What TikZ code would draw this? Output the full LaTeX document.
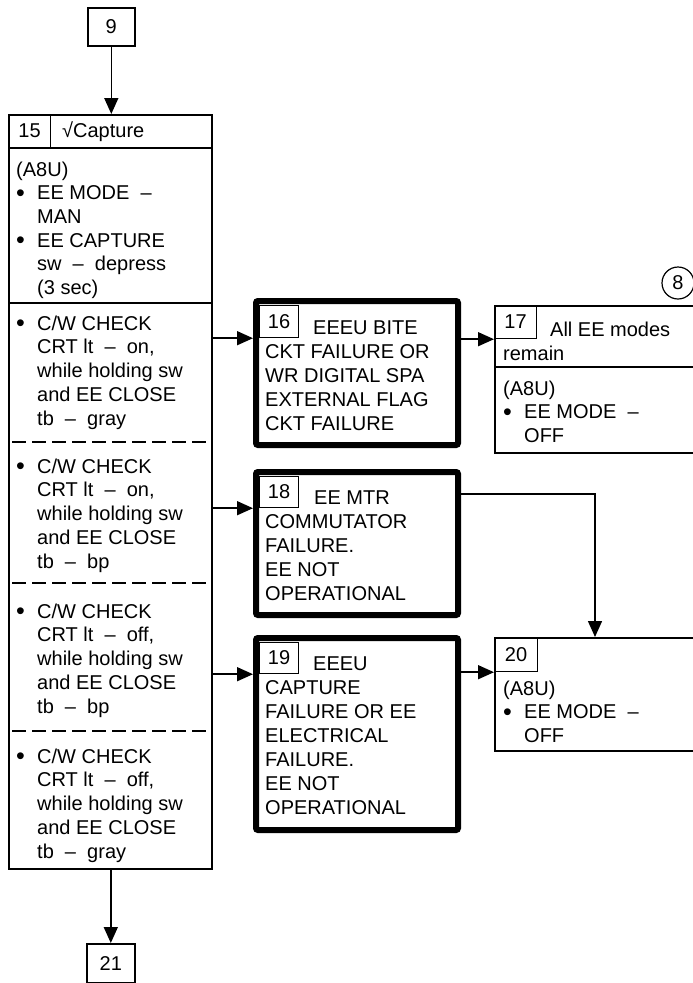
\documentclass[tikz,border=0pt]{standalone}
\usepackage{fontspec}
\setmainfont{Liberation Sans}
\usetikzlibrary{positioning,arrows.meta}
\newcommand{\bul}{\makebox[21pt][l]{\raisebox{-1.5pt}{\fontsize{25}{24}\selectfont\textbullet}}}
\newcommand{\ind}{\hspace*{21pt}}
\tikzset{
  frame/.style={rectangle, draw, line width=1.6pt, inner sep=0pt, anchor=north west},
  fail/.style={rectangle, draw, line width=6pt, rounded corners=2pt, inner sep=0pt, anchor=north west},
  numcell/.style={rectangle, draw, line width=1.2pt, inner sep=0pt, anchor=north west},
  txt/.style={inner sep=0pt, align=left, anchor=base west},
  failtxt/.style={txt, font=\fontsize{20}{24}\selectfont},
  sep/.style={line width=1.6pt},
  dsep/.style={line width=1.6pt, dash pattern=on 14pt off 6pt},
  flow/.style={-{Triangle[length=16pt,width=14pt]}, line width=1.5pt}
}
\begin{document}
\begin{tikzpicture}[x=1pt, y=-1pt, font=\fontsize{20}{23.7}\selectfont]
\useasboundingbox (0,0) rectangle (693,983);
% off-page connectors
\node[frame, minimum width=47pt, minimum height=38pt] (c9) at (87,7) {9};
\node[frame, minimum width=48pt, minimum height=39pt] (c21) at (86,943) {21};
% block 15 (text nodes sit on the baseline of their last line)
\node[frame, minimum width=203pt, minimum height=754pt] (b15) at (8,114) {};
\node[numcell, minimum width=42pt, minimum height=33pt] (n15) at (8,114) {15};
\node[txt] (t15) at (62,137) {√Capture};
\draw[sep] (b15.west |- n15.south) -- (b15.east |- n15.south);
\draw[sep] (8,303) -- (211,303);
\draw[dsep] (12,442) -- (206,442);
\draw[dsep] (12,583) -- (206,583);
\draw[dsep] (12,731) -- (206,731);
\node[txt] (s15a) at (16,294.5) {(A8U)\\\bul EE MODE~~–\\\ind MAN\\\bul EE CAPTURE\\\ind sw~~–~~depress\\\ind (3 sec)};
\node[txt] (s15b) at (16,425) {\bul C/W CHECK\\\ind CRT lt~~–~~on,\\\ind while holding sw\\\ind and EE CLOSE\\\ind tb~~–~~gray};
\node[txt] (s15c) at (16,568) {\bul C/W CHECK\\\ind CRT lt~~–~~on,\\\ind while holding sw\\\ind and EE CLOSE\\\ind tb~~–~~bp};
\node[txt] (s15d) at (16,713) {\bul C/W CHECK\\\ind CRT lt~~–~~off,\\\ind while holding sw\\\ind and EE CLOSE\\\ind tb~~–~~bp};
\node[txt] (s15e) at (16,858) {\bul C/W CHECK\\\ind CRT lt~~–~~off,\\\ind while holding sw\\\ind and EE CLOSE\\\ind tb~~–~~gray};
% failure blocks
\node[fail, minimum width=202pt, minimum height=144pt] (b16) at (253,298) {};
\node[numcell, minimum width=39pt, minimum height=32pt] (n16) at (259,305) {16};
\node[failtxt] (t16) at (265,430) {\hspace*{48pt}EEEU BITE\\CKT FAILURE OR\\WR DIGITAL SPA\\EXTERNAL FLAG\\CKT FAILURE};
\node[fail, minimum width=202pt, minimum height=143pt] (b18) at (253,469) {};
\node[numcell, minimum width=39pt, minimum height=31pt] (n18) at (259,476) {18};
\node[failtxt] (t18) at (265,600) {\hspace*{49pt}EE MTR\\COMMUTATOR\\FAILURE.\\EE NOT\\OPERATIONAL};
\node[fail, minimum width=202pt, minimum height=192pt] (b19) at (253,635) {};
\node[numcell, minimum width=39pt, minimum height=31pt] (n19) at (259,642) {19};
\node[failtxt] (t19) at (265,814) {\hspace*{48pt}EEEU\\CAPTURE\\FAILURE OR EE\\ELECTRICAL\\FAILURE.\\EE NOT\\OPERATIONAL};
% blocks 17 and 20
\node[frame, minimum width=210pt, minimum height=147pt] (b17) at (494,305) {};
\node[numcell, minimum width=42pt, minimum height=33pt] (n17) at (494,305) {17};
\draw[sep] (b17.west |- 0,367) -- (b17.east |- 0,367);
\node[txt] (t17) at (503,360.5) {\hspace*{47pt}All EE modes\\remain};
\node[txt] (s17) at (503,442.5) {(A8U)\\\bul EE MODE~~–\\\ind OFF};
\node[circle, draw, line width=1.2pt, minimum size=32pt, inner sep=0pt] (p8) at (678,283) {8};
\node[frame, minimum width=210pt, minimum height=113pt] (b20) at (494,637) {};
\node[numcell, minimum width=43pt, minimum height=34pt] (n20) at (494,637) {20};
\node[txt] (s20) at (503,742.5) {(A8U)\\\bul EE MODE~~–\\\ind OFF};
% connectors
\coordinate (knee) at (595,494);
\draw[flow] (c9.south) -- (c9.south |- b15.north);
\draw[flow] (b15.south -| c21) -- (c21.north);
\draw[flow] (b15.east |- n16.south) -- (b16.west |- n16.south);
\draw[flow] (b15.east |- n18.south) -- (b18.west |- n18.south);
\draw[flow] (b15.east |- n19.south) -- (b19.west |- n19.south);
\draw[flow] (b16.east |- n17.south) -- (b17.west |- n17.south);
\draw[flow] (b19.east |- n20.south) -- (b20.west |- n20.south);
\draw[flow] (b18.east |- knee) -| (b20.north -| knee);
\end{tikzpicture}
\end{document}
